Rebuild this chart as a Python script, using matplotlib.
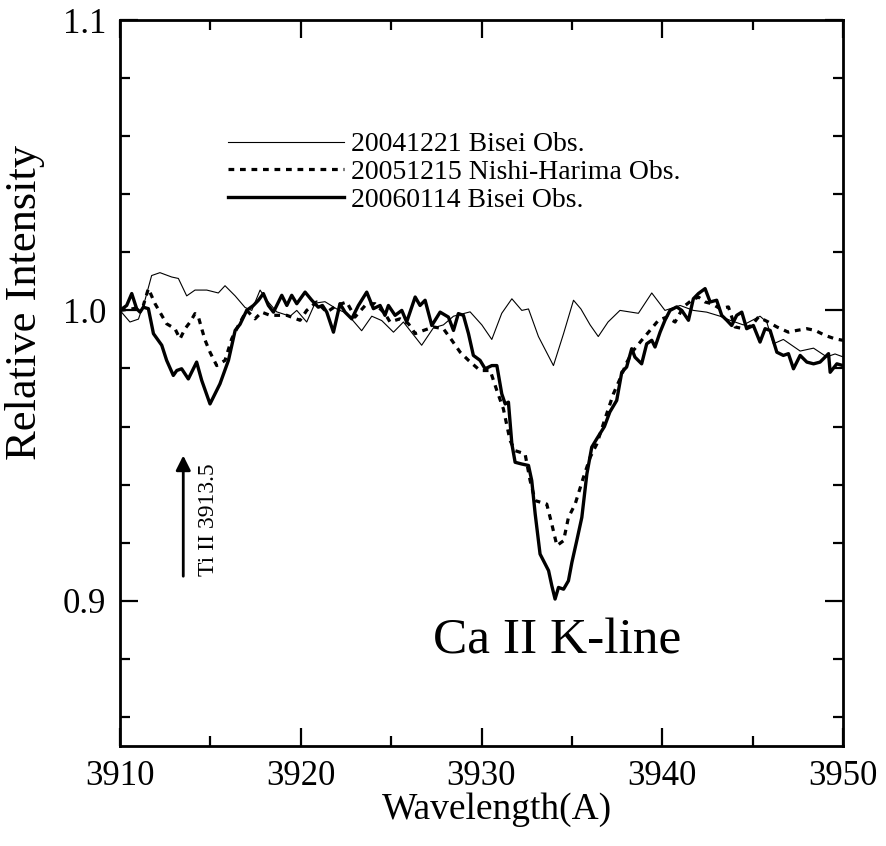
import matplotlib
matplotlib.use("Agg")
import matplotlib.pyplot as plt
from matplotlib.ticker import MultipleLocator

plt.rcParams["font.family"] = ["Liberation Serif", "DejaVu Serif"]

# 20041221 Bisei Obs. (thin)
wl_2004 = [3910.0, 3910.55, 3911.02, 3911.38, 3911.75, 3912.21, 3912.86, 3913.23, 3913.69,
           3914.15, 3914.8, 3915.44, 3915.81, 3916.37, 3916.92, 3917.29, 3917.75, 3918.12,
           3918.67, 3919.41, 3919.78, 3920.33, 3920.79, 3921.34, 3921.99, 3922.54, 3923.37,
           3923.93, 3924.48, 3925.13, 3925.68, 3926.69, 3927.34, 3927.89, 3928.45, 3929.37,
           3930.02, 3930.57, 3931.12, 3931.68, 3932.23, 3932.6, 3933.15, 3933.98, 3934.54,
           3935.09, 3935.5, 3936.01, 3936.46, 3937.0, 3937.66, 3938.68, 3939.42, 3940.15,
           3940.99, 3941.72, 3942.46, 3943.2, 3943.75, 3944.49, 3945.41, 3945.78, 3946.15,
           3946.7, 3947.63, 3948.37, 3949.1, 3949.56, 3950.0]
int_2004 = [1.000, 0.996, 0.997, 1.0035, 1.012, 1.013, 1.0115, 1.011, 1.005,
            1.007, 1.007, 1.006, 1.0085, 1.005, 1.001, 1.000, 1.007, 1.0035,
            0.9995, 0.998, 1.000, 0.996, 1.0025, 1.003, 1.0005, 0.999, 0.993,
            0.998, 0.9965, 0.9925, 0.996, 0.988, 0.994, 0.995, 0.998, 0.9995,
            0.995, 0.990, 0.999, 1.004, 1.000, 1.0005, 0.991, 0.981, 0.992,
            1.0035, 1.0005, 0.995, 0.991, 0.996, 1.000, 0.999, 1.006, 1.000,
            1.0017, 1.000, 0.9994, 0.998, 0.9966, 0.995, 0.998, 0.996, 0.9885,
            0.990, 0.986, 0.987, 0.984, 0.985, 0.984]

# 20051215 Nishi-Harima Obs. (dotted)
wl_2005 = [3910.0, 3910.74, 3911.29, 3911.57, 3911.94, 3912.31, 3912.58, 3913.04, 3913.32,
           3913.6, 3913.88, 3914.15, 3914.34, 3914.52, 3914.71, 3914.98, 3915.35, 3915.81,
           3916.18, 3916.55, 3917.01, 3917.47, 3917.84, 3918.3, 3919.23, 3919.96, 3920.33,
           3920.88, 3921.44, 3921.99, 3922.54, 3923.0, 3923.65, 3924.11, 3924.66, 3924.94,
           3925.49, 3925.96, 3926.33, 3926.79, 3927.34, 3927.89, 3928.36, 3928.82, 3929.28,
           3929.92, 3930.48, 3930.85, 3931.21, 3931.58, 3931.86, 3932.41, 3932.69, 3932.97,
           3933.61, 3933.89, 3934.17, 3934.54, 3934.81, 3935.18, 3935.64, 3936.01, 3936.38,
           3936.85, 3937.3, 3937.66, 3938.03, 3938.4, 3938.86, 3939.32, 3939.79, 3940.25,
           3940.71, 3941.17, 3941.63, 3942.0, 3942.37, 3942.74, 3943.2, 3943.66, 3944.03,
           3944.49, 3944.95, 3945.32, 3945.87, 3946.34, 3946.98, 3947.44, 3948.0, 3948.46,
           3949.01, 3949.56, 3950.0]
int_2005 = [1.000, 1.0006, 1.0017, 1.0075, 1.0023, 0.9983, 0.9954, 0.9937, 0.9902,
            0.9937, 0.996, 0.9989, 0.9977, 0.9937, 0.9897, 0.9856, 0.981, 0.9828,
            0.9902, 0.9948, 1.000, 0.9971, 0.9994, 0.9983, 0.9983, 0.9966, 1.000,
            1.0029, 0.9994, 1.0017, 1.0029, 0.9977, 1.0023, 1.0023, 0.9989, 0.996,
            0.9971, 0.9954, 0.992, 0.9931, 0.9943, 0.9937, 0.9897, 0.9856, 0.9828,
            0.9793, 0.9793, 0.9724, 0.9661, 0.9552, 0.9517, 0.9506, 0.9414, 0.9345,
            0.9333, 0.9264, 0.919, 0.9207, 0.9287, 0.9333, 0.9425, 0.9494, 0.954,
            0.963, 0.9713, 0.9764, 0.982, 0.9862, 0.9897, 0.9931, 0.9966, 0.9977,
            0.996, 1.0012, 1.0035, 1.0046, 1.0029, 1.0023, 1.0006, 1.0012, 0.9943,
            0.9937, 0.9948, 0.9977, 0.996, 0.9943, 0.9925, 0.9931, 0.9937, 0.9931,
            0.9914, 0.9902, 0.9897]

# 20060114 Bisei Obs. (thick)
wl_2006 = [3910.0, 3910.37, 3910.65, 3910.92, 3911.11, 3911.29, 3911.57, 3911.85, 3912.31,
           3912.58, 3912.95, 3913.14, 3913.41, 3913.78, 3914.24, 3914.52, 3914.98, 3915.53,
           3916.0, 3916.37, 3916.64, 3917.01, 3917.38, 3917.66, 3917.93, 3918.21, 3918.49,
           3918.95, 3919.23, 3919.5, 3919.78, 3920.24, 3920.61, 3920.97, 3921.2, 3921.44,
           3921.81, 3922.17, 3922.45, 3922.82, 3923.19, 3923.65, 3924.02, 3924.39, 3924.66,
           3924.85, 3925.22, 3925.59, 3925.86, 3926.33, 3926.6, 3926.88, 3927.25, 3927.71,
           3928.17, 3928.45, 3928.72, 3929.0, 3929.28, 3929.55, 3929.92, 3930.2, 3930.57,
           3930.85, 3931.12, 3931.31, 3931.49, 3931.68, 3931.86, 3932.23, 3932.6, 3932.78,
           3932.97, 3933.24, 3933.52, 3933.71, 3933.89, 3934.07, 3934.26, 3934.54, 3934.81,
           3935.0, 3935.27, 3935.55, 3935.83, 3936.1, 3936.38, 3936.8, 3937.1, 3937.48,
           3937.76, 3938.03, 3938.31, 3938.49, 3938.86, 3939.14, 3939.42, 3939.6, 3939.88,
           3940.15, 3940.43, 3940.8, 3941.08, 3941.45, 3941.72, 3942.0, 3942.37, 3942.65,
           3943.01, 3943.29, 3943.57, 3943.84, 3944.12, 3944.4, 3944.67, 3945.04, 3945.41,
           3945.69, 3945.97, 3946.34, 3946.7, 3946.98, 3947.26, 3947.63, 3948.0, 3948.37,
           3948.73, 3949.2, 3949.29, 3949.66, 3950.0]
int_2006 = [1.000, 1.0017, 1.0058, 1.0006, 0.9994, 1.0011, 1.0006, 0.992, 0.988,
            0.9828, 0.9776, 0.9793, 0.9799, 0.9764, 0.9822, 0.9759, 0.9678, 0.9747,
            0.9828, 0.9931, 0.9952, 1.000, 1.0017, 1.0035, 1.0058, 1.0017, 0.9994,
            1.0052, 1.0017, 1.0052, 1.0023, 1.0063, 1.0035, 1.0011, 1.0017, 0.9994,
            0.9925, 1.0023, 0.9994, 0.9971, 1.0017, 1.0063, 1.0006, 1.0017, 0.9983,
            1.0017, 0.9983, 1.000, 0.996, 1.0046, 1.0017, 1.0035, 0.9948, 0.9994,
            0.9977, 0.9931, 0.9989, 0.9983, 0.992, 0.9845, 0.9828, 0.9799, 0.981,
            0.981, 0.9713, 0.9678, 0.9684, 0.954, 0.9477, 0.9471, 0.9466, 0.9414,
            0.9299, 0.9161, 0.9127, 0.9104, 0.9052, 0.9006, 0.9046, 0.904, 0.9069,
            0.9132, 0.9207, 0.9287, 0.9437, 0.9529, 0.9558, 0.960, 0.965, 0.969,
            0.9787, 0.9805, 0.9868, 0.9839, 0.9816, 0.9885, 0.9897, 0.9874, 0.9925,
            0.9966, 1.000, 1.0012, 1.000, 0.9966, 1.004, 1.0058, 1.0075, 1.0029,
            1.0035, 0.9983, 0.9966, 0.9948, 0.9983, 0.9994, 0.9937, 0.9948, 0.9891,
            0.9937, 0.9931, 0.9856, 0.9845, 0.9851, 0.9799, 0.9845, 0.9822, 0.9816,
            0.9822, 0.9851, 0.9787, 0.9816, 0.981]

labels = ["20041221 Bisei Obs.", "20051215 Nishi-Harima Obs.", "20060114 Bisei Obs."]

# Ti II marker
ti_wl = 3913.5
ti_tail = 0.9075
ti_head = 0.951

fig = plt.figure(figsize=(8.86, 8.46), dpi=100)
ax = fig.add_axes([120 / 886, 100 / 846, 723 / 886, 726 / 846])

ax.plot(wl_2004, int_2004, color="black", lw=0.8, label=labels[0])
ax.plot(wl_2005, int_2005, color="black", lw=2.3, linestyle=(0, (1.8, 1.8)), label=labels[1])
ax.plot(wl_2006, int_2006, color="black", lw=2.4, label=labels[2])

ax.set_xlim(3910, 3950)
ax.set_ylim(0.85, 1.1)
ax.xaxis.set_major_locator(MultipleLocator(10))
ax.xaxis.set_minor_locator(MultipleLocator(5))
ax.yaxis.set_major_locator(MultipleLocator(0.1))
ax.yaxis.set_minor_locator(MultipleLocator(0.02))
ax.tick_params(which="both", direction="in", top=True, right=True, width=1.6, labelsize=25, pad=10)
ax.tick_params(which="major", length=13)
ax.tick_params(which="minor", length=7)
for s in ax.spines.values():
    s.set_linewidth(2)

leg = ax.legend(loc="upper left", bbox_to_anchor=(0.149, 0.846), frameon=False, fontsize=20,
                handlelength=4.2, handletextpad=0.25, labelspacing=0.08,
                borderpad=0, borderaxespad=0)

# arrow + line labels
ax.annotate("", xy=(ti_wl, ti_head), xytext=(ti_wl, ti_tail),
            arrowprops=dict(arrowstyle="-|>", color="black", lw=2, mutation_scale=22))
ax.text(3914.9, 0.928, "Ti II 3913.5", rotation=90, ha="center", va="center", fontsize=17)
ax.text(3934.2, 0.886, "Ca II K-line", ha="center", va="center", fontsize=37)

fig.text(497 / 886, 1 - 810 / 846, "Wavelength(A)", ha="center", va="center", fontsize=27)
fig.text(25 / 886, 1 - 302 / 846, "Relative Intensity", ha="center", va="center",
         rotation=90, fontsize=32)

fig.savefig("out.png", dpi=100)
